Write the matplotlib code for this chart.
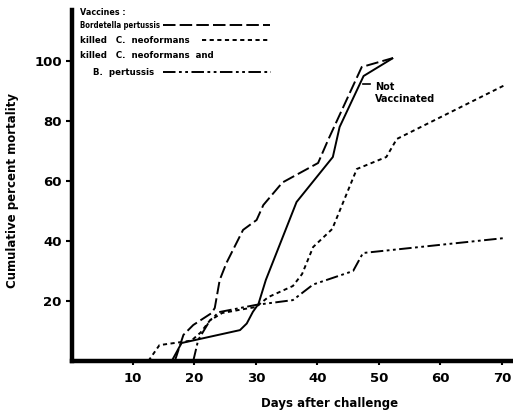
import matplotlib
matplotlib.use("Agg")
import matplotlib.pyplot as plt

# values
days_nv = [16.3, 17.9, 27.4, 28.5, 29.5, 30.4, 31.6, 36.6, 42.5, 43.6, 47.5, 52.3]
mort_nv = [0, 6, 10.3, 12.5, 16.4, 19, 27, 53, 68, 78, 95, 101]

days_bp = [16.8, 18.2, 19.8, 22.8, 23.3, 24.1, 25.2, 27.9, 30.1, 31.2, 34.3, 40.1, 41.8, 47.2, 52.3]
mort_bp = [0, 8.7, 12, 16, 17.7, 27, 32.7, 43.7, 47, 52, 59.5, 66, 74, 98, 101]

days_cn = [12.5, 14.3, 19.5, 21, 22.5, 24.5, 28, 30, 32, 36, 37.5, 39.3, 42.4, 46.4, 51.2, 52.9, 70.5]
mort_cn = [0, 5.3, 6.8, 9.5, 13.5, 16, 17.3, 18, 21.3, 25, 29, 38, 44, 64, 68, 74, 92]

days_both = [19.8, 20.6, 22.5, 24, 30, 36, 39.3, 45.8, 47.4, 70.5]
mort_both = [0, 7, 13.5, 16.3, 18.7, 20.3, 25.5, 30, 36, 41]

xticks = [10, 20, 30, 40, 50, 60, 70]
yticks = [20, 40, 60, 80, 100]

plt.rcParams['lines.scale_dashes'] = False
plt.rcParams['font.weight'] = 'bold'

fig = plt.figure(figsize=(5.13, 4.15), dpi=100)
ax = fig.add_axes([0.1394, 0.1301, 0.857, 0.8458])

long_dash = (0, (9, 3))
short_dash = (0, (3, 2.5))
dash_dot = (0, (9, 2.5, 2, 2.5, 2, 2.5))

ax.plot(days_nv, mort_nv, color="black", lw=1.4, solid_capstyle="butt")
ax.plot(days_bp, mort_bp, color="black", lw=1.4, linestyle=long_dash)
ax.plot(days_cn, mort_cn, color="black", lw=1.4, linestyle=short_dash)
ax.plot(days_both, mort_both, color="black", lw=1.4, linestyle=dash_dot)

ax.set_xlim(0, 71.5)
ax.set_ylim(0, 117)
ax.set_xticks(xticks)
ax.set_yticks(yticks)
ax.tick_params(axis="y", length=4, width=1.5, pad=3, labelsize=9.5)
ax.tick_params(axis="x", length=3, width=1.5, pad=5, labelsize=9.5)
for lab in ax.get_xticklabels() + ax.get_yticklabels():
    lab.set_fontweight("bold")

ax.spines["top"].set_visible(False)
ax.spines["right"].set_visible(False)
ax.spines["left"].set_linewidth(3.2)
ax.spines["bottom"].set_linewidth(3.2)

ax.set_xlabel("Days after challenge", fontsize=8.5, fontweight="bold")
ax.xaxis.set_label_coords(0.588, -0.103)
ax.set_ylabel("Cumulative percent mortality", fontsize=8.5, fontweight="bold")
ax.yaxis.set_label_coords(-0.12, 0.487)

# key, written by hand like the original
key_font = dict(va="center", fontweight="bold")
ax.text(1.4, 116.3, "Vaccines :", fontsize=5.8, clip_on=False, **key_font)
ax.text(1.4, 112, "Bordetella pertussis", fontsize=5.6, fontstretch="condensed", **key_font)
ax.plot([14.9, 32.2], [112, 112], color="black", lw=1.4, linestyle=long_dash, clip_on=False)
ax.text(1.4, 107, "killed   C.  neoformans", fontsize=6.2, **key_font)
ax.plot([21.3, 31.9], [107, 107], color="black", lw=1.4, linestyle=short_dash)
ax.text(1.4, 102, "killed   C.  neoformans  and", fontsize=6.2, **key_font)
ax.text(3.5, 96.3, "B.  pertussis", fontsize=6.2, **key_font)
ax.plot([14.9, 32.4], [96.3, 96.3], color="black", lw=1.4, linestyle=dash_dot)

ax.plot([47.4, 48.6], [92.3, 92.3], color="black", lw=1.2)
ax.text(49.4, 91.3, "Not", fontsize=7, va="center")
ax.text(49.4, 87.5, "Vaccinated", fontsize=7, va="center")

fig.savefig("out.png", dpi=100)
